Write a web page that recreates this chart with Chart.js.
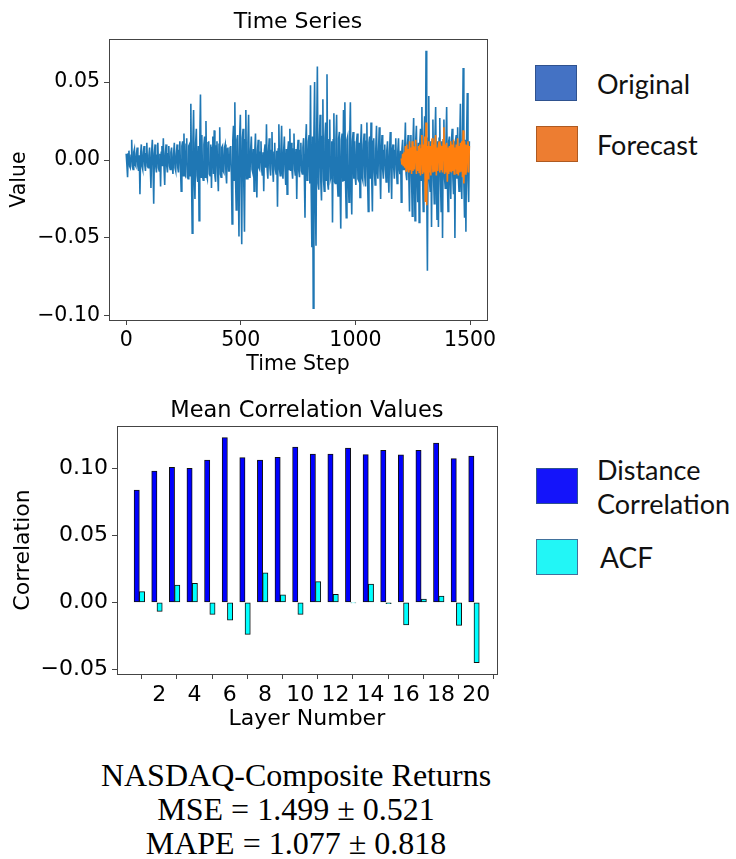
<!DOCTYPE html>
<html>
<head>
<meta charset="utf-8">
<script src="https://cdn.jsdelivr.net/npm/chart.js@4.4.1/dist/chart.umd.min.js"></script>
<style>
  body { margin: 0; background: #fff; width: 736px; height: 859px; position: relative; overflow: hidden; }
  #tsWrap { position: absolute; left: 0; top: 0; width: 500px; height: 378px; }
  #barWrap { position: absolute; left: 0; top: 385px; width: 510px; height: 347px; }
  .sw { position: absolute; width: 42px; height: 36px; box-sizing: border-box; border: 1px solid; }
  .key { position: absolute; font-family: Lato, "Open Sans", sans-serif; font-size: 27px; line-height: 34px; color: #111; white-space: nowrap; }
  #summary { position: absolute; left: 96px; top: 758px; width: 400px; text-align: center;
             font-family: "Liberation Serif", "DejaVu Serif", serif; font-size: 32px; line-height: 34px; color: #000; }
</style>
</head>
<body>
<div id="tsWrap"><canvas id="tsChart"></canvas></div>
<div id="barWrap"><canvas id="barChart"></canvas></div>

<div class="sw" style="left:535px;top:65px;background:#4472c4;border-color:#2f528f"></div>
<div class="key" style="left:597px;top:67px">Original</div>
<div class="sw" style="left:536px;top:126px;background:#ed7d31;border-color:#ae5a21"></div>
<div class="key" style="left:597px;top:128px">Forecast</div>

<div class="sw" style="left:536px;top:468px;background:#1414fa;border-color:#2f528f"></div>
<div class="key" style="left:597px;top:453px">Distance<br>Correlation</div>
<div class="sw" style="left:536px;top:539px;background:#22f6f6;border-color:#41719c"></div>
<div class="key" style="left:600px;top:540px;font-size:28px">ACF</div>

<div id="summary">NASDAQ-Composite Returns<br>MSE = 1.499 ± 0.521<br>MAPE = 1.077 ± 0.818</div>

<script>
// time series (one reading every 3 steps)
const originalValues = [
  0.004, -0.003, -0.011, 0.004, 0.006, -0.004, -0.005, 0.003, 0.013, -0.004, -0.006, 0.005, 0.007, -0.003, -0.004, 0.004, 0.008, -0.004, -0.007, 0.003,
  -0.022, 0.004, 0.010, -0.004, -0.006, 0.005, 0.009, -0.003, -0.007, 0.004, 0.011, -0.004, -0.005, 0.003, 0.008, -0.004, -0.018, 0.005, 0.013, -0.003,
  -0.028, 0.004, 0.010, -0.004, -0.008, 0.003, 0.011, -0.005, -0.007, 0.004, -0.017, 0.005, 0.009, -0.004, 0.014, -0.005, -0.016, 0.004, 0.010, -0.004,
  -0.008, 0.004, 0.009, -0.004, -0.006, 0.005, 0.008, -0.004, -0.009, 0.004, 0.011, -0.005, -0.007, 0.004, 0.010, -0.005, -0.008, 0.006, 0.012, -0.006,
  -0.020, 0.009, 0.012, -0.010, 0.017, -0.009, -0.010, 0.010, 0.014, -0.011, -0.012, 0.009, 0.010, -0.010, 0.036, -0.011, -0.047, 0.012, 0.032, -0.011,
  -0.025, 0.011, 0.020, -0.010, -0.014, 0.009, -0.039, 0.011, 0.042, -0.011, 0.016, -0.010, -0.013, 0.010, 0.015, -0.011, 0.025, -0.010, -0.012, 0.011,
  0.012, -0.009, -0.010, 0.010, -0.018, 0.008, 0.015, -0.009, 0.019, -0.010, -0.014, 0.009, 0.012, -0.008, -0.020, 0.010, 0.021, -0.009, -0.011, 0.008,
  0.009, -0.007, -0.008, 0.008, 0.010, -0.008, -0.015, 0.007, 0.008, -0.007, -0.007, 0.008, 0.009, -0.010, -0.041, 0.012, 0.022, -0.013, 0.037, -0.012,
  -0.032, 0.013, 0.016, -0.014, -0.049, 0.015, 0.029, -0.013, -0.054, 0.014, 0.020, -0.015, -0.046, 0.013, 0.032, -0.012, -0.012, 0.011, 0.029, -0.011,
  -0.009, 0.007, 0.015, -0.006, -0.008, 0.007, -0.020, 0.006, 0.017, -0.007, -0.024, 0.006, 0.013, -0.005, -0.006, 0.005, 0.012, -0.006, -0.010, 0.005,
  -0.020, 0.006, 0.010, -0.005, 0.023, -0.006, -0.012, 0.006, 0.014, -0.005, -0.010, 0.006, 0.018, -0.006, -0.014, 0.005, 0.011, -0.006, -0.009, 0.006,
  -0.030, 0.007, 0.023, -0.006, -0.010, 0.006, 0.022, -0.007, -0.012, 0.006, 0.015, -0.006, -0.016, 0.007, -0.022, 0.006, 0.012, -0.006, 0.020, -0.007,
  0.011, -0.006, -0.012, 0.007, 0.017, -0.006, -0.010, 0.007, -0.025, 0.006, 0.013, -0.007, -0.011, 0.006, 0.011, -0.007, -0.009, 0.008, 0.014, -0.008,
  -0.037, 0.012, 0.023, -0.013, -0.011, 0.012, 0.016, -0.015, 0.048, -0.018, -0.056, 0.015, -0.095, 0.017, 0.050, -0.022, -0.055, 0.018, 0.060, -0.015,
  -0.019, 0.013, 0.029, -0.014, -0.026, 0.015, 0.039, -0.013, -0.020, 0.014, 0.024, -0.013, 0.055, -0.015, -0.019, 0.013, 0.026, -0.012, -0.010, 0.012,
  -0.040, 0.013, 0.030, -0.014, -0.015, 0.013, 0.029, -0.013, -0.023, 0.014, 0.018, -0.015, -0.044, 0.013, 0.017, -0.014, 0.032, -0.013, 0.037, -0.015,
  -0.037, 0.013, 0.015, -0.013, -0.027, 0.014, 0.037, -0.013, -0.035, 0.012, 0.018, -0.012, 0.012, -0.011, -0.016, 0.012, 0.017, -0.012, -0.013, 0.011,
  -0.024, 0.011, 0.023, -0.011, -0.013, 0.010, 0.017, -0.011, -0.017, 0.012, 0.024, -0.012, -0.033, 0.011, 0.015, -0.012, 0.024, -0.011, -0.033, 0.012,
  0.014, -0.008, -0.016, 0.008, 0.022, -0.007, -0.012, 0.007, 0.021, -0.007, -0.025, 0.006, 0.016, -0.006, -0.012, 0.006, 0.010, -0.006, -0.014, 0.006,
  0.012, -0.006, -0.021, 0.006, 0.018, -0.007, -0.025, 0.006, 0.010, -0.005, -0.012, 0.006, 0.014, -0.006, -0.015, 0.006, 0.014, -0.005, -0.009, 0.006,
  -0.027, 0.007, 0.013, -0.006, -0.006, 0.008, 0.024, -0.009, -0.013, 0.010, 0.016, -0.011, -0.033, 0.010, 0.016, -0.012, -0.036, 0.011, 0.027, -0.012,
  -0.039, 0.012, 0.022, -0.012, -0.027, 0.011, -0.040, 0.012, 0.020, -0.013, 0.034, -0.012, -0.033, 0.013, 0.028, -0.014, 0.070, -0.015, -0.071, 0.014,
  0.041, -0.013, -0.020, 0.012, -0.043, 0.013, 0.026, -0.012, -0.028, 0.014, 0.034, -0.013, -0.038, 0.012, -0.043, 0.014, 0.027, -0.013, -0.033, 0.012,
  -0.050, 0.013, 0.026, -0.012, -0.018, 0.011, 0.034, -0.012, -0.033, 0.012, 0.015, -0.011, -0.025, 0.012, 0.020, -0.011, -0.022, 0.012, -0.050, 0.013,
  0.016, -0.012, 0.021, -0.011, -0.020, 0.012, 0.036, -0.013, -0.025, 0.012, 0.059, -0.014, -0.037, 0.013, -0.046, 0.014, 0.043, -0.013, -0.027, 0.012
];
const originalSteps = originalValues.map((_, i) => i * 3);

// forecast from step 1200 (one reading every 3 steps)
const forecastValues = [
  0.001, -0.003, 0.004, -0.004, 0.005, -0.005, 0.009, -0.007, 0.010, -0.006,
  0.007, -0.008, 0.012, -0.006, 0.008, -0.009, 0.012, -0.007, 0.009, -0.006,
  0.008, 0.013, -0.009, 0.006, -0.007, 0.009, -0.008, 0.010, -0.010, 0.007,
  0.016, -0.009, 0.010, -0.008, 0.015, -0.027, 0.024, -0.029, 0.009, -0.012,
  0.012, -0.008, 0.009, -0.010, 0.007, 0.014, -0.008, 0.010, -0.007, 0.011,
  0.016, -0.010, 0.008, -0.007, 0.009, 0.012, -0.008, 0.010, -0.006, 0.009,
  -0.008, 0.013, 0.021, -0.009, 0.010, -0.008, 0.011, -0.014, 0.008, -0.009,
  0.009, -0.007, 0.012, -0.008, 0.010, -0.007, 0.013, -0.009, 0.008, -0.006,
  0.010, -0.009, 0.014, -0.010, 0.009, -0.008, 0.011, -0.007, 0.012, -0.011,
  0.019, -0.015, 0.012, -0.009, 0.010, -0.008, 0.009, 0.012, -0.008, 0.009
];
const forecastSteps = forecastValues.map((_, i) => 1200 + i * 3);

const tsXTicks = [0, 500, 1000, 1500];
const tsYTicks = [-0.10, -0.05, 0.00, 0.05];

// mean correlation per layer
const layers = [1, 2, 3, 4, 5, 6, 7, 8, 9, 10, 11, 12, 13, 14, 15, 16, 17, 18, 19, 20];
const distCorr = [0.0838, 0.0980, 0.1007, 0.1000, 0.1062, 0.1229, 0.1080, 0.1062, 0.1082, 0.1159,
                  0.1107, 0.1107, 0.1152, 0.1102, 0.1134, 0.1100, 0.1134, 0.1189, 0.1072, 0.1092];
const acfValues = [0.0080, -0.0067, 0.0129, 0.0142, -0.0090, -0.0134, -0.0239, 0.0221, 0.0055, -0.0090,
                   0.0154, 0.0060, -0.0005, 0.0137, -0.0010, -0.0169, 0.0025, 0.0047, -0.0172, -0.0450];
const layerTicks = [2, 4, 6, 8, 10, 12, 14, 16, 18, 20];
const corrTicks = [-0.05, 0.00, 0.05, 0.10];

Chart.defaults.font.family = "'DejaVu Sans', sans-serif";
Chart.defaults.color = '#000';

const fmt2 = v => (Math.abs(v) < 1e-9 ? '0.00' : v.toFixed(2).replace('-', '\u2212'));

// matplotlib-like box around the axes
const frame = {
  id: 'frame',
  afterDraw(chart) {
    const { ctx, chartArea: a } = chart;
    ctx.save();
    ctx.strokeStyle = '#444';
    ctx.lineWidth = 1;
    ctx.strokeRect(Math.round(a.left) + 0.5, Math.round(a.top) + 0.5,
                   Math.round(a.right - a.left), Math.round(a.bottom - a.top));
    ctx.restore();
  }
};

function axisStyle(size) {
  return {
    grid: { display: true, drawOnChartArea: false, drawTicks: true, tickLength: 5, tickColor: '#444' },
    border: { display: false },
    ticks: { color: '#000', font: { size: size }, padding: 4, maxRotation: 0, autoSkip: false, includeBounds: false }
  };
}

// TIME SERIES
const tsX = axisStyle(20.5);
const tsY = axisStyle(20.5);
new Chart(document.getElementById('tsChart'), {
  type: 'line',
  data: {
    datasets: [{
      label: 'Original',
      data: originalSteps.map((s, i) => ({ x: s, y: originalValues[i] })),
      borderColor: '#1f77b4',
      borderWidth: 1.6,
      pointRadius: 0,
      tension: 0,
      order: 2
    }, {
      label: 'Forecast',
      data: forecastSteps.map((s, i) => ({ x: s, y: forecastValues[i] })),
      borderColor: '#ff7f0e',
      borderWidth: 1.6,
      pointRadius: 0,
      tension: 0,
      order: 1
    }]
  },
  options: {
    responsive: true,
    maintainAspectRatio: false,
    animation: false,
    layout: { padding: { left: 0, right: 13, top: 0, bottom: 0 } },
    plugins: {
      legend: { display: false },
      tooltip: { enabled: false },
      title: {
        display: true, text: 'Time Series', fullSize: false, color: '#000',
        font: { size: 22, weight: 'normal' }, padding: { top: 8.8, bottom: 3.8 }
      }
    },
    scales: {
      x: {
        type: 'linear', min: -75, max: 1574,
        afterFit: s => { s.height = 58; },
        afterBuildTicks: s => { s.ticks = tsXTicks.map(v => ({ value: v })); },
        grid: tsX.grid, border: tsX.border,
        ticks: Object.assign({}, tsX.ticks, { padding: 3, callback: v => String(v) }),
        title: { display: true, text: 'Time Step', color: '#000', font: { size: 20.5 }, padding: { top: 0, bottom: 1 } }
      },
      y: {
        min: -0.1026, max: 0.0776,
        afterFit: s => { s.width = 109; },
        afterBuildTicks: s => { s.ticks = tsYTicks.map(v => ({ value: v })); },
        grid: tsY.grid, border: tsY.border,
        ticks: Object.assign({}, tsY.ticks, { callback: fmt2 }),
        title: { display: true, text: 'Value', color: '#000', font: { size: 20.5 }, padding: { top: 7.7, bottom: 0 } }
      }
    }
  },
  plugins: [frame]
});

// BAR CHART
const dcOffset = -0.28;
const acfOffset = 0.02;
const bx = axisStyle(22);
const by = axisStyle(22);
new Chart(document.getElementById('barChart'), {
  type: 'bar',
  data: {
    datasets: [{
      label: 'Distance Correlation',
      data: layers.map((l, i) => ({ x: l + dcOffset, y: distCorr[i] })),
      backgroundColor: '#0000ff',
      borderColor: '#111',
      borderWidth: 1,
      borderSkipped: false,
      grouped: false,
      barPercentage: 1,
      categoryPercentage: 1
    }, {
      label: 'ACF',
      data: layers.map((l, i) => ({ x: l + acfOffset, y: acfValues[i] })),
      backgroundColor: '#00ffff',
      borderColor: '#111',
      borderWidth: 1,
      borderSkipped: false,
      grouped: false,
      barPercentage: 1,
      categoryPercentage: 1
    }]
  },
  options: {
    responsive: true,
    maintainAspectRatio: false,
    animation: false,
    layout: { padding: { left: 0, right: 13.3, top: 0, bottom: 0 } },
    plugins: {
      legend: { display: false },
      tooltip: { enabled: false },
      title: {
        display: true, text: 'Mean Correlation Values', fullSize: false, color: '#000',
        font: { size: 22.5, weight: 'normal' }, padding: { top: 13, bottom: 1 }
      }
    },
    scales: {
      x: {
        type: 'linear', min: -0.40, max: 21.16, offset: false,
        afterFit: s => { s.height = 58; },
        afterBuildTicks: s => { s.ticks = layerTicks.map(v => ({ value: v })); },
        grid: bx.grid, border: bx.border,
        ticks: Object.assign({}, bx.ticks, { padding: 3, callback: v => String(v) }),
        title: { display: true, text: 'Layer Number', color: '#000', font: { size: 22 }, padding: { top: 0, bottom: 0 } }
      },
      y: {
        min: -0.0535, max: 0.1316,
        afterFit: s => { s.width = 117; },
        afterBuildTicks: s => { s.ticks = corrTicks.map(v => ({ value: v })); },
        grid: by.grid, border: by.border,
        ticks: Object.assign({}, by.ticks, { callback: fmt2 }),
        title: { display: true, text: 'Correlation', color: '#000', font: { size: 22 }, padding: { top: 9.8, bottom: 0 } }
      }
    }
  },
  plugins: [frame]
});
</script>
</body>
</html>
